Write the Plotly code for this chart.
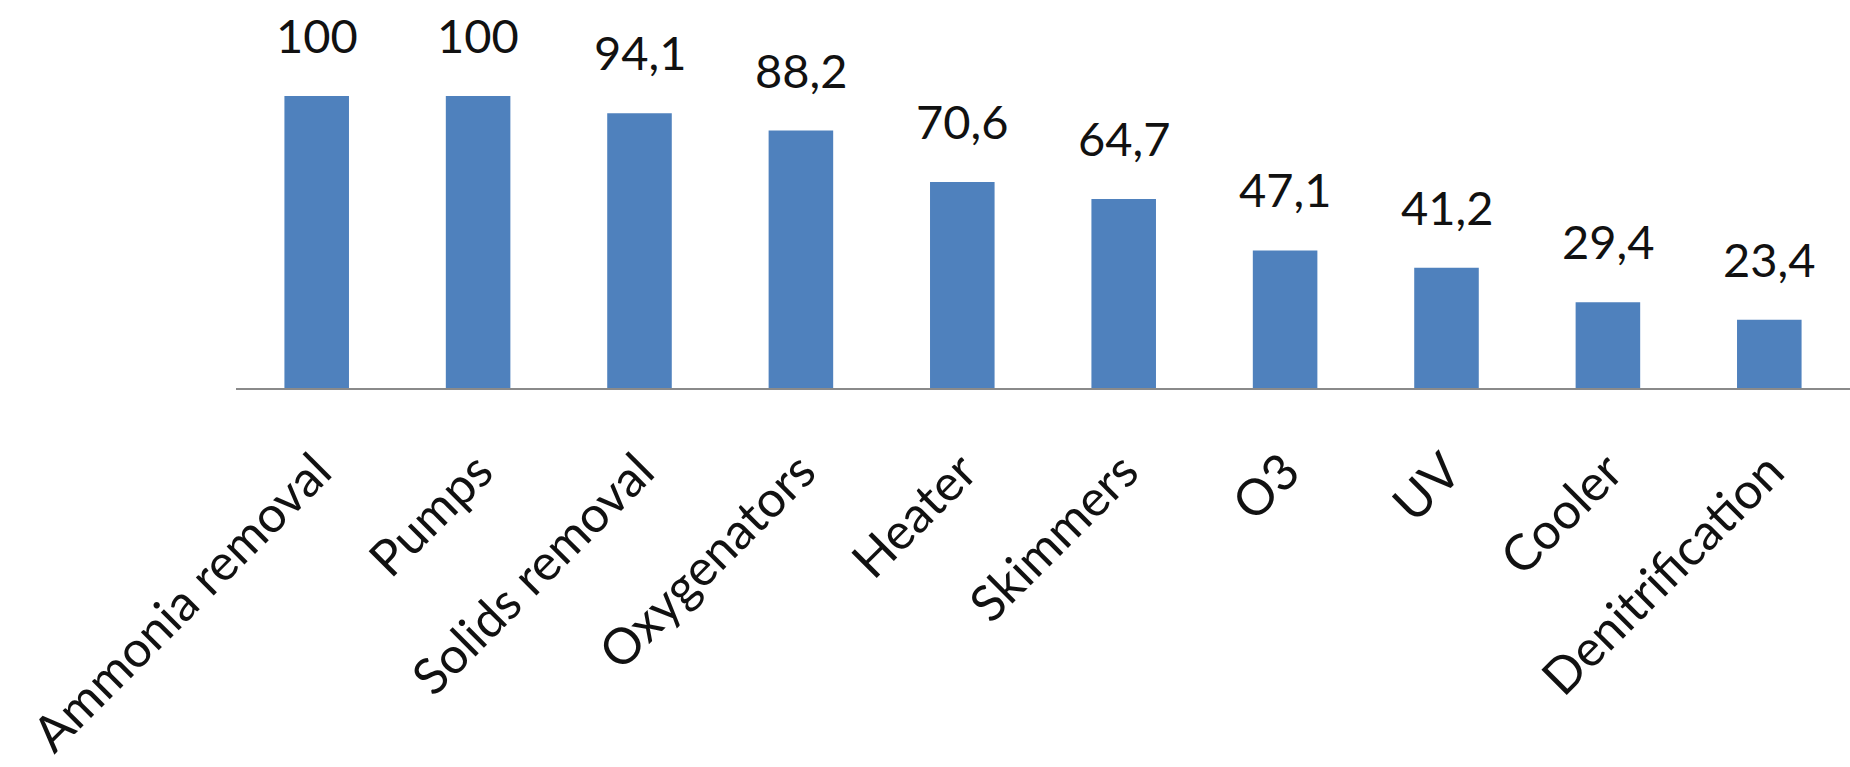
import plotly.graph_objects as go

# Share of systems using each component (%)
components = ["Ammonia removal", "Pumps", "Solids removal", "Oxygenators", "Heater",
              "Skimmers", "O3", "UV", "Cooler", "Denitrification"]
shares = [100, 100, 94.1, 88.2, 70.6, 64.7, 47.1, 41.2, 29.4, 23.4]
share_labels = ["100", "100", "94,1", "88,2", "70,6", "64,7", "47,1", "41,2", "29,4", "23,4"]

FONT = "Lato, 'Open Sans', sans-serif"
BAR_COLOR = "#4F81BD"

fig = go.Figure(
    go.Bar(
        x=components,
        y=shares,
        marker=dict(color=BAR_COLOR, line=dict(width=0)),
        hoverinfo="x+y",
    )
)

# value labels above each bar
for name, value, label in zip(components, shares, share_labels):
    fig.add_annotation(
        x=name, y=value, text=label, showarrow=False,
        xanchor="center", yanchor="bottom", yshift=31,
        font=dict(family=FONT, size=47, color="#111111"),
    )

fig.update_layout(
    width=1850, height=767,
    margin=dict(l=236, r=0, t=0, b=379),
    paper_bgcolor="white", plot_bgcolor="white",
    bargap=0.6,
    showlegend=False,
    font=dict(family=FONT, size=50, color="#111111"),
)
fig.update_xaxes(
    type="category",
    range=[-0.5, 9.5],
    tickangle=-45,
    ticklabelstandoff=32,
    showline=True, linecolor="#8a8a8a", linewidth=2,
    showgrid=False, ticks="", zeroline=False,
    tickfont=dict(family=FONT, size=50, color="#111111"),
)
fig.update_yaxes(
    range=[0, 132.9],
    visible=False, showgrid=False, zeroline=False,
)

fig.write_html("out.html")
